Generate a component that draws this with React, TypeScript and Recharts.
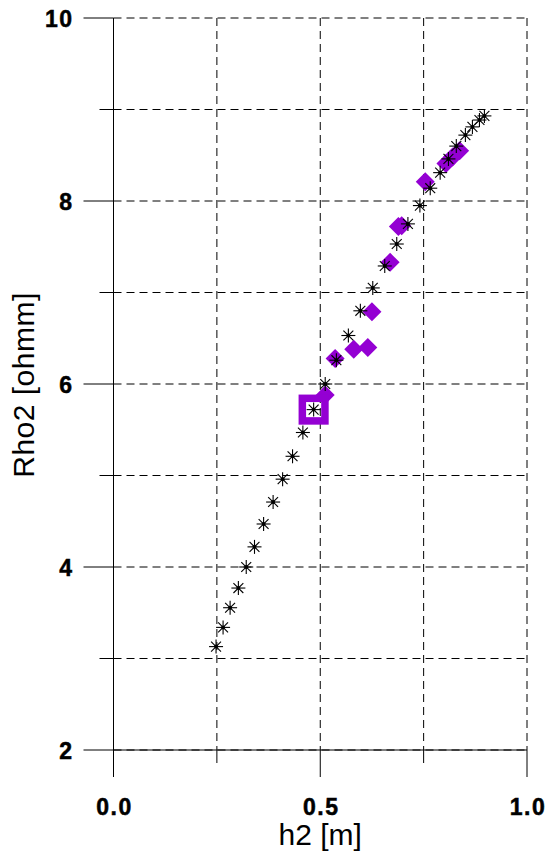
import React from "react";
import { ScatterChart, Scatter, XAxis, YAxis, CartesianGrid, Label } from "recharts";

// Modelled curve: h2 [m] vs Rho2 [ohmm]
const curveH = [0.248, 0.265, 0.282, 0.302, 0.321, 0.341, 0.363, 0.386, 0.409, 0.433, 0.458, 0.484, 0.512, 0.539, 0.568, 0.597, 0.627, 0.656, 0.685, 0.712, 0.741, 0.766, 0.79, 0.81, 0.829, 0.851, 0.868, 0.885, 0.897];
const curveRho = [3.13, 3.34, 3.555, 3.77, 4.0, 4.22, 4.47, 4.71, 4.96, 5.21, 5.47, 5.72, 6.0, 6.26, 6.53, 6.8, 7.05, 7.29, 7.53, 7.75, 7.95, 8.14, 8.31, 8.46, 8.6, 8.72, 8.81, 8.885, 8.93];

// Accepted solutions
const solH = [0.512, 0.536, 0.581, 0.615, 0.625, 0.669, 0.689, 0.697, 0.754, 0.804, 0.82, 0.837];
const solRho = [5.88, 6.28, 6.38, 6.4, 6.79, 7.33, 7.72, 7.73, 8.21, 8.41, 8.48, 8.55];

// Best solution
const bestH = [0.484];
const bestRho = [5.72];

const xTicks = [0, 0.25, 0.5, 0.75, 1];
const xLabels = ["0.0", "", "0.5", "", "1.0"];
const yTicks = [2, 3, 4, 5, 6, 7, 8, 9, 10];
const yLabels = ["2", "", "4", "", "6", "", "8", "", "10"];

const PURPLE = "#9400D3";

const zip = (xs: number[], ys: number[]) => xs.map((h, i) => ({ h, rho: ys[i] }));
const curveData = zip(curveH, curveRho);
const solData = zip(solH, solRho);
const bestData = zip(bestH, bestRho);

const Star = (p: any) => {
  const { cx, cy } = p;
  const r = 7;
  const d = r * Math.SQRT1_2;
  return (
    <g stroke="#000" strokeWidth={1.1}>
      <line x1={cx - r} y1={cy} x2={cx + r} y2={cy} />
      <line x1={cx} y1={cy - r} x2={cx} y2={cy + r} />
      <line x1={cx - d} y1={cy - d} x2={cx + d} y2={cy + d} />
      <line x1={cx - d} y1={cy + d} x2={cx + d} y2={cy - d} />
      <circle cx={cx} cy={cy} r={2} fill="#000" stroke="none" />
    </g>
  );
};

const Diamond = (p: any) => {
  const { cx, cy } = p;
  const r = 9.5;
  return <path d={`M${cx},${cy - r}L${cx + r},${cy}L${cx},${cy + r}L${cx - r},${cy}Z`} fill={PURPLE} />;
};

const HollowSquare = (p: any) => {
  const { cx, cy } = p;
  const s = 11.3;
  return <rect x={cx - s} y={cy - s} width={2 * s} height={2 * s} fill="none" stroke={PURPLE} strokeWidth={7.5} />;
};

const labelFont = "'Liberation Sans', Arial, sans-serif";

const XTick = (p: any) => {
  const { x, y, payload, index } = p;
  const i = xTicks.indexOf(payload.value);
  const major = xLabels[i] !== "";
  return (
    <g key={index}>
      <line x1={x} y1={y} x2={x} y2={y + (major ? 27 : 13)} stroke="#000" strokeWidth={1} />
      {major && (
        <text x={x + 1} y={y + 65} textAnchor="middle" fontFamily={labelFont} fontWeight="bold" fontSize={23} letterSpacing={1.5} stroke="#000" strokeWidth={0.5} fill="#000">
          {xLabels[i]}
        </text>
      )}
    </g>
  );
};

const YTick = (p: any) => {
  const { x, y, payload, index } = p;
  const i = yTicks.indexOf(payload.value);
  const major = yLabels[i] !== "";
  return (
    <g key={index}>
      <line x1={x - (major ? 30 : 14)} y1={y} x2={x} y2={y} stroke="#000" strokeWidth={1} />
      {major && (
        <text x={x - 40} y={y + 8.5} textAnchor="end" fontFamily={labelFont} fontWeight="bold" fontSize={23} letterSpacing={1.5} stroke="#000" strokeWidth={0.5} fill="#000">
          {yLabels[i]}
        </text>
      )}
    </g>
  );
};

export default function App() {
  return (
    <div style={{ position: "absolute", left: 0, top: 0, background: "#fff" }}>
      <ScatterChart width={547} height={854} margin={{ top: 18, right: 20, bottom: 0, left: 0.5 }}>
        <CartesianGrid stroke="#000" strokeDasharray="8 5" />
        <XAxis
          type="number"
          dataKey="h"
          domain={[0, 1]}
          ticks={xTicks}
          interval={0}
          height={104}
          tickSize={0}
          tickMargin={0}
          tickLine={false}
          tick={XTick}
          axisLine={{ stroke: "#000", strokeWidth: 1 }}
        >
          <Label
            content={(lp: any) => {
              const vb = lp.viewBox;
              return (
                <text x={vb.x + vb.width / 2} y={845} textAnchor="middle" fontFamily={labelFont} fontSize={30} fill="#000">
                  h2 [m]
                </text>
              );
            }}
          />
        </XAxis>
        <YAxis
          type="number"
          dataKey="rho"
          domain={[2, 10]}
          ticks={yTicks}
          interval={0}
          width={113}
          tickSize={0}
          tickMargin={0}
          tickLine={false}
          tick={YTick}
          axisLine={{ stroke: "#000", strokeWidth: 1 }}
        >
          <Label
            content={(lp: any) => {
              const vb = lp.viewBox;
              const cy = vb.y + vb.height / 2 + 1;
              return (
                <text x={34} y={cy} transform={`rotate(-90, 34, ${cy})`} textAnchor="middle" fontFamily={labelFont} fontSize={30} letterSpacing={0.5} fill="#000">
                  Rho2 [ohmm]
                </text>
              );
            }}
          />
        </YAxis>
        <Scatter data={solData} shape={Diamond} isAnimationActive={false} />
        <Scatter data={bestData} shape={HollowSquare} isAnimationActive={false} />
        <Scatter data={curveData} shape={Star} isAnimationActive={false} />
      </ScatterChart>
    </div>
  );
}
